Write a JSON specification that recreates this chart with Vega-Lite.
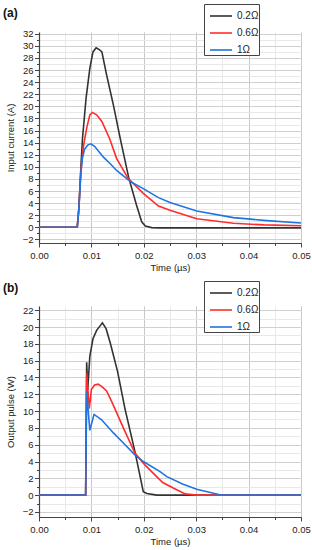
{
  "$schema": "https://vega.github.io/schema/vega-lite/v6.json",
  "padding": {"left": 3, "top": 3, "right": 2, "bottom": 2},
  "background": "white",
  "config": {
    "view": {"stroke": null},
    "font": "Liberation Sans",
    "axis": {"labelFont": "Liberation Sans", "titleFont": "Liberation Sans", "labelFontSize": 9.5, "titleFontSize": 9.5, "titleFontWeight": "normal", "labelColor": "#222", "titleColor": "#222", "domainColor": "#444", "tickColor": "#444"},
    "legend": {"labelFont": "Liberation Sans", "labelFontSize": 10, "labelColor": "#222"}
  },
  "datasets": {
    "a": [
      {"s": "0.2Ω", "t": 0, "v": 0}, {"s": "0.2Ω", "t": 0.0073, "v": 0}, {"s": "0.2Ω", "t": 0.0076, "v": 3}, {"s": "0.2Ω", "t": 0.008, "v": 10}, {"s": "0.2Ω", "t": 0.0083, "v": 14.7}, {"s": "0.2Ω", "t": 0.009, "v": 21.5}, {"s": "0.2Ω", "t": 0.0097, "v": 26.3}, {"s": "0.2Ω", "t": 0.0103, "v": 29.0}, {"s": "0.2Ω", "t": 0.0109, "v": 29.7}, {"s": "0.2Ω", "t": 0.0115, "v": 29.4}, {"s": "0.2Ω", "t": 0.012, "v": 29.0}, {"s": "0.2Ω", "t": 0.0129, "v": 25.2}, {"s": "0.2Ω", "t": 0.0142, "v": 20.2}, {"s": "0.2Ω", "t": 0.0155, "v": 14.7}, {"s": "0.2Ω", "t": 0.0171, "v": 8.3}, {"s": "0.2Ω", "t": 0.0186, "v": 3.7}, {"s": "0.2Ω", "t": 0.0196, "v": 0.9}, {"s": "0.2Ω", "t": 0.0203, "v": 0.2}, {"s": "0.2Ω", "t": 0.0215, "v": -0.05}, {"s": "0.2Ω", "t": 0.023, "v": -0.1}, {"s": "0.2Ω", "t": 0.05, "v": -0.1},
      {"s": "0.6Ω", "t": 0, "v": 0}, {"s": "0.6Ω", "t": 0.0073, "v": 0}, {"s": "0.6Ω", "t": 0.0076, "v": 3}, {"s": "0.6Ω", "t": 0.008, "v": 9.5}, {"s": "0.6Ω", "t": 0.0085, "v": 13.5}, {"s": "0.6Ω", "t": 0.0091, "v": 16.4}, {"s": "0.6Ω", "t": 0.0097, "v": 18.6}, {"s": "0.6Ω", "t": 0.0102, "v": 19.0}, {"s": "0.6Ω", "t": 0.011, "v": 18.6}, {"s": "0.6Ω", "t": 0.012, "v": 17.5}, {"s": "0.6Ω", "t": 0.0135, "v": 14.6}, {"s": "0.6Ω", "t": 0.0148, "v": 11.4}, {"s": "0.6Ω", "t": 0.017, "v": 8.1}, {"s": "0.6Ω", "t": 0.0199, "v": 5.6}, {"s": "0.6Ω", "t": 0.0228, "v": 3.5}, {"s": "0.6Ω", "t": 0.025, "v": 2.8}, {"s": "0.6Ω", "t": 0.0301, "v": 1.4}, {"s": "0.6Ω", "t": 0.0371, "v": 0.66}, {"s": "0.6Ω", "t": 0.043, "v": 0.4}, {"s": "0.6Ω", "t": 0.05, "v": 0.25},
      {"s": "1Ω", "t": 0, "v": 0}, {"s": "1Ω", "t": 0.0073, "v": 0}, {"s": "1Ω", "t": 0.0076, "v": 3}, {"s": "1Ω", "t": 0.008, "v": 9}, {"s": "1Ω", "t": 0.0083, "v": 11.5}, {"s": "1Ω", "t": 0.0087, "v": 12.9}, {"s": "1Ω", "t": 0.0093, "v": 13.6}, {"s": "1Ω", "t": 0.0099, "v": 13.8}, {"s": "1Ω", "t": 0.0106, "v": 13.4}, {"s": "1Ω", "t": 0.0123, "v": 11.6}, {"s": "1Ω", "t": 0.0136, "v": 10.5}, {"s": "1Ω", "t": 0.0148, "v": 9.4}, {"s": "1Ω", "t": 0.0174, "v": 7.6}, {"s": "1Ω", "t": 0.0199, "v": 6.4}, {"s": "1Ω", "t": 0.0228, "v": 4.9}, {"s": "1Ω", "t": 0.025, "v": 4.1}, {"s": "1Ω", "t": 0.0301, "v": 2.7}, {"s": "1Ω", "t": 0.0371, "v": 1.6}, {"s": "1Ω", "t": 0.0435, "v": 1.1}, {"s": "1Ω", "t": 0.05, "v": 0.7}
    ],
    "b": [
      {"s": "0.2Ω", "t": 0, "v": 0}, {"s": "0.2Ω", "t": 0.0089, "v": 0}, {"s": "0.2Ω", "t": 0.0091, "v": 15.8}, {"s": "0.2Ω", "t": 0.0093, "v": 12.5}, {"s": "0.2Ω", "t": 0.0097, "v": 16.5}, {"s": "0.2Ω", "t": 0.0103, "v": 18.6}, {"s": "0.2Ω", "t": 0.011, "v": 19.6}, {"s": "0.2Ω", "t": 0.0121, "v": 20.5}, {"s": "0.2Ω", "t": 0.0128, "v": 19.8}, {"s": "0.2Ω", "t": 0.0136, "v": 18.1}, {"s": "0.2Ω", "t": 0.015, "v": 14.7}, {"s": "0.2Ω", "t": 0.0164, "v": 10.3}, {"s": "0.2Ω", "t": 0.0183, "v": 5.2}, {"s": "0.2Ω", "t": 0.0199, "v": 0.4}, {"s": "0.2Ω", "t": 0.0206, "v": 0.2}, {"s": "0.2Ω", "t": 0.0225, "v": 0}, {"s": "0.2Ω", "t": 0.05, "v": 0},
      {"s": "0.6Ω", "t": 0, "v": 0}, {"s": "0.6Ω", "t": 0.0089, "v": 0}, {"s": "0.6Ω", "t": 0.0091, "v": 14.5}, {"s": "0.6Ω", "t": 0.0096, "v": 10.3}, {"s": "0.6Ω", "t": 0.01, "v": 12.6}, {"s": "0.6Ω", "t": 0.0106, "v": 13.1}, {"s": "0.6Ω", "t": 0.0113, "v": 13.2}, {"s": "0.6Ω", "t": 0.012, "v": 12.9}, {"s": "0.6Ω", "t": 0.0129, "v": 12.4}, {"s": "0.6Ω", "t": 0.0139, "v": 11.1}, {"s": "0.6Ω", "t": 0.0161, "v": 8.0}, {"s": "0.6Ω", "t": 0.0183, "v": 5.0}, {"s": "0.6Ω", "t": 0.0202, "v": 3.6}, {"s": "0.6Ω", "t": 0.0236, "v": 1.5}, {"s": "0.6Ω", "t": 0.0258, "v": 0.8}, {"s": "0.6Ω", "t": 0.0279, "v": 0.15}, {"s": "0.6Ω", "t": 0.03, "v": 0}, {"s": "0.6Ω", "t": 0.05, "v": 0},
      {"s": "1Ω", "t": 0, "v": 0}, {"s": "1Ω", "t": 0.0089, "v": 0}, {"s": "1Ω", "t": 0.0091, "v": 12.3}, {"s": "1Ω", "t": 0.0097, "v": 7.7}, {"s": "1Ω", "t": 0.0105, "v": 9.6}, {"s": "1Ω", "t": 0.0119, "v": 9.0}, {"s": "1Ω", "t": 0.0142, "v": 7.4}, {"s": "1Ω", "t": 0.0161, "v": 6.2}, {"s": "1Ω", "t": 0.0183, "v": 4.8}, {"s": "1Ω", "t": 0.0199, "v": 4.0}, {"s": "1Ω", "t": 0.0231, "v": 2.8}, {"s": "1Ω", "t": 0.0244, "v": 2.2}, {"s": "1Ω", "t": 0.0275, "v": 1.3}, {"s": "1Ω", "t": 0.0301, "v": 0.7}, {"s": "1Ω", "t": 0.0345, "v": 0.05}, {"s": "1Ω", "t": 0.036, "v": 0}, {"s": "1Ω", "t": 0.05, "v": 0}
    ]
  },
  "bounds": "flush",
  "spacing": 63,
  "resolve": {"scale": {"color": "independent"}, "legend": {"color": "independent"}},
  "vconcat": [
    {
      "width": 262, "height": 211,
      "data": {"name": "a"},
      "title": {"text": "(a)", "anchor": "start", "frame": "group", "dx": -36, "fontSize": 12, "fontWeight": "bold", "font": "Liberation Sans", "color": "#111", "offset": -16.5},
      "resolve": {"axis": {"x": "independent", "y": "independent"}},
      "layer": [
        {
          "mark": {"type": "line", "strokeWidth": 1.6, "clip": true},
          "encoding": {
            "x": {"field": "t", "type": "quantitative", "scale": {"domain": [0, 0.05], "nice": false, "zero": false},
                  "axis": {"orient": "bottom", "values": [0, 0.005, 0.01, 0.015, 0.02, 0.025, 0.03, 0.035, 0.04, 0.045, 0.05], "labels": false, "title": null, "domain": false, "tickSize": 2.5, "grid": true, "gridColor": "#e8e8e8", "gridWidth": 1}},
            "y": {"field": "v", "type": "quantitative", "scale": {"domain": [-2.6, 32.3], "nice": false, "zero": false},
                  "axis": {"orient": "left", "values": [-2,-1,0,1,2,3,4,5,6,7,8,9,10,11,12,13,14,15,16,17,18,19,20,21,22,23,24,25,26,27,28,29,30,31,32], "labels": false, "title": null, "domain": false, "tickSize": 2.5, "grid": true, "gridColor": "#e8e8e8", "gridWidth": 1}},
            "color": {"field": "s", "type": "nominal", "sort": ["0.2Ω", "0.6Ω", "1Ω"],
                      "scale": {"domain": ["0.2Ω", "0.6Ω", "1Ω"], "range": ["#333333", "#ff2b2b", "#1f74e0"]},
                      "legend": {"title": null, "orient": "none", "legendX": 165, "legendY": -28, "symbolType": "stroke", "symbolSize": 484, "symbolStrokeWidth": 1.6, "symbolOffset": 5, "labelOffset": 4, "rowPadding": -1.5, "padding": 0, "strokeColor": "#444", "fillColor": "white", "cornerRadius": 0}}
          }
        },
        {
          "mark": {"type": "line", "opacity": 0},
          "encoding": {
            "x": {"field": "t", "type": "quantitative", "scale": {"domain": [0, 0.05], "nice": false, "zero": false},
                  "axis": {"orient": "bottom", "values": [0, 0.01, 0.02, 0.03, 0.04, 0.05], "format": ".2f", "title": "Time (µs)", "tickSize": 4, "labelPadding": 3, "titlePadding": 3, "grid": true, "gridColor": "#c8c8c8", "gridWidth": 1, "domainWidth": 1.2, "labelFlush": false}},
            "y": {"field": "v", "type": "quantitative", "scale": {"domain": [-2.6, 32.3], "nice": false, "zero": false},
                  "axis": {"orient": "left", "values": [-2,0,2,4,6,8,10,12,14,16,18,20,22,24,26,28,30,32], "title": "Input current (A)", "tickSize": 4.5, "labelPadding": 1.5, "titlePadding": 7, "grid": true, "gridColor": "#d0d0d0", "gridWidth": 1, "domainWidth": 1.2}},
            "detail": {"field": "s", "type": "nominal"}
          }
        }
      ]
    },
    {
      "width": 262, "height": 211,
      "data": {"name": "b"},
      "title": {"text": "(b)", "anchor": "start", "frame": "group", "dx": -36, "fontSize": 12, "fontWeight": "bold", "font": "Liberation Sans", "color": "#111", "offset": -14.2},
      "resolve": {"axis": {"x": "independent", "y": "independent"}},
      "layer": [
        {
          "mark": {"type": "line", "strokeWidth": 1.6, "clip": true},
          "encoding": {
            "x": {"field": "t", "type": "quantitative", "scale": {"domain": [0, 0.05], "nice": false, "zero": false},
                  "axis": {"orient": "bottom", "values": [0, 0.005, 0.01, 0.015, 0.02, 0.025, 0.03, 0.035, 0.04, 0.045, 0.05], "labels": false, "title": null, "domain": false, "tickSize": 2.5, "grid": true, "gridColor": "#e8e8e8", "gridWidth": 1}},
            "y": {"field": "v", "type": "quantitative", "scale": {"domain": [-2.6, 22.5], "nice": false, "zero": false},
                  "axis": {"orient": "left", "values": [-2,-1,0,1,2,3,4,5,6,7,8,9,10,11,12,13,14,15,16,17,18,19,20,21,22], "labels": false, "title": null, "domain": false, "tickSize": 2.5, "grid": true, "gridColor": "#e8e8e8", "gridWidth": 1}},
            "color": {"field": "s", "type": "nominal", "sort": ["0.2Ω", "0.6Ω", "1Ω"],
                      "scale": {"domain": ["0.2Ω", "0.6Ω", "1Ω"], "range": ["#333333", "#ff2b2b", "#1f74e0"]},
                      "legend": {"title": null, "orient": "none", "legendX": 165, "legendY": -25, "symbolType": "stroke", "symbolSize": 484, "symbolStrokeWidth": 1.6, "symbolOffset": 5, "labelOffset": 4, "rowPadding": -1.5, "padding": 0, "strokeColor": "#444", "fillColor": "white", "cornerRadius": 0}}
          }
        },
        {
          "mark": {"type": "line", "opacity": 0},
          "encoding": {
            "x": {"field": "t", "type": "quantitative", "scale": {"domain": [0, 0.05], "nice": false, "zero": false},
                  "axis": {"orient": "bottom", "values": [0, 0.01, 0.02, 0.03, 0.04, 0.05], "format": ".2f", "title": "Time (µs)", "tickSize": 4, "labelPadding": 3, "titlePadding": 3, "grid": true, "gridColor": "#c8c8c8", "gridWidth": 1, "domainWidth": 1.2, "labelFlush": false}},
            "y": {"field": "v", "type": "quantitative", "scale": {"domain": [-2.6, 22.5], "nice": false, "zero": false},
                  "axis": {"orient": "left", "values": [-2,0,2,4,6,8,10,12,14,16,18,20,22], "title": "Output pulse (W)", "tickSize": 4.5, "labelPadding": 1.5, "titlePadding": 7, "grid": true, "gridColor": "#d0d0d0", "gridWidth": 1, "domainWidth": 1.2}},
            "detail": {"field": "s", "type": "nominal"}
          }
        }
      ]
    }
  ]
}
